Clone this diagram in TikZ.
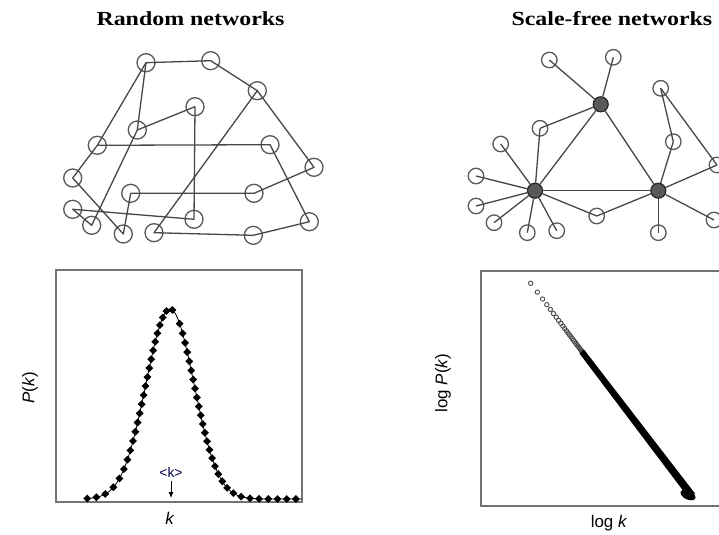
\documentclass[tikz,border=0pt]{standalone}
\usepackage{fontspec}
\setmainfont{Liberation Serif}
\setsansfont{Liberation Sans}
\usetikzlibrary{arrows.meta, shapes.geometric}

\begin{document}
\begin{tikzpicture}[
    x=1bp, y=-1bp,
    title/.style={anchor=west, font=\fontsize{20}{24}\selectfont\bfseries},
    rnode/.style={draw=black!65, circle, minimum size=18bp, inner sep=0pt, line width=1.3bp},
    leaf/.style={draw=black!65, circle, minimum size=15.5bp, inner sep=0pt, line width=1.3bp},
    hub/.style={draw=black!85, fill=black!65, circle, minimum size=15bp, inner sep=0pt, line width=1.2bp},
    link/.style={draw=black!72, line width=1.3bp, line join=round},
    frame/.style={draw=black!55, line width=1.5bp},
    axis/.style={font=\sffamily\fontsize{17}{19}\selectfont},
    dmd/.style={diamond, fill=black, minimum size=8bp, inner sep=0pt},
    odot/.style={draw=black!70, line width=0.9bp}
]
    \clip (0,0) rectangle (719,535);
    \fill[white] (0,0) rectangle (719,535);

    % Titles
    \node[title] (rtitle) at (93,19) {\scalebox{1.2}[1]{Random networks}};
    \node[title] (stitle) at (508,19) {\scalebox{1.2}[1]{Scale-free networks}};

    % Random network
    \node[rnode] (r1) at (146,62.7) {};
    \node[rnode] (r2) at (210.7,60.7) {};
    \node[rnode] (r3) at (257.3,90.7) {};
    \node[rnode] (r4) at (195,106.7) {};
    \node[rnode] (r5) at (137.3,130) {};
    \node[rnode] (r6) at (97.3,145.3) {};
    \node[rnode] (r7) at (270,144.7) {};
    \node[rnode] (r8) at (314,167.3) {};
    \node[rnode] (r9) at (72.7,178) {};
    \node[rnode] (r10) at (130.7,193.3) {};
    \node[rnode] (r11) at (254,193.3) {};
    \node[rnode] (r12) at (72.7,209.3) {};
    \node[rnode] (r13) at (194,219.3) {};
    \node[rnode] (r14) at (309.3,221.7) {};
    \node[rnode] (r15) at (91.7,225.3) {};
    \node[rnode] (r16) at (123.3,234) {};
    \node[rnode] (r17) at (154,232.7) {};
    \node[rnode] (r18) at (253.3,235.3) {};

    \draw[link] (r6.center) -- (r1.center) -- (r2.center) -- (r3.center) -- (r8.center) -- (r11.center) -- (r10.center) -- (r16.center) -- (r9.center) -- (r6.center) -- (r7.center) -- (r14.center) -- (r18.center) -- (r17.center) -- (r3.center);
    \draw[link] (r1.center) -- (r5.center) -- (r4.center) -- (r13.center) -- (r12.center) -- (r15.center) -- (r5.center);

    % Scale-free network
    \node[leaf] (s1) at (549.3,60) {};
    \node[leaf] (s2) at (613.3,57.3) {};
    \node[leaf] (s3) at (660.7,88.3) {};
    \node[leaf] (s4) at (540,128.3) {};
    \node[leaf] (s5) at (500.7,144) {};
    \node[leaf] (s6) at (673.3,141.7) {};
    \node[leaf] (s7) at (717,165) {};
    \node[leaf] (s8) at (476,176) {};
    \node[leaf] (s9) at (476,206) {};
    \node[leaf] (s10) at (494,222.7) {};
    \node[leaf] (s11) at (527.3,232.7) {};
    \node[leaf] (s12) at (556.7,230.7) {};
    \node[leaf] (s13) at (596.7,216) {};
    \node[leaf] (s14) at (714,220) {};
    \node[leaf] (s15) at (658.3,232.7) {};

    \node[hub] (h1) at (600.7,104.3) {};
    \node[hub] (h2) at (535,190.7) {};
    \node[hub] (h3) at (658.3,190.7) {};
    \draw[link] (s3.center) -- (s6.center);
    \draw[link] (s3.center) -- (s7.center);
    \draw[link] (h1) -- (s1.center);
    \draw[link] (h1) -- (s2.center);
    \draw[link] (h1) -- (s4.center);
    \draw[link] (h1) -- (h2);
    \draw[link] (h1) -- (h3);
    \draw[link] (h2) -- (h3);
    \draw[link] (h2) -- (s4.center);
    \draw[link] (h2) -- (s5.center);
    \draw[link] (h2) -- (s8.center);
    \draw[link] (h2) -- (s9.center);
    \draw[link] (h2) -- (s10.center);
    \draw[link] (h2) -- (s11.center);
    \draw[link] (h2) -- (s12.center);
    \draw[link] (h2) -- (s13.center);
    \draw[link] (h3) -- (s13.center);
    \draw[link] (h3) -- (s6.center);
    \draw[link] (h3) -- (s7.center);
    \draw[link] (h3) -- (s14.center);
    \draw[link] (h3) -- (s15.center);

    % Poisson degree distribution
    \draw[frame] (56,270) rectangle (302,502);
    \draw[black, line width=0.8bp]
        plot[domain=88:302, samples=120] (\x, {499-190*exp(max(-9, -0.5*((\x-170)/24)*((\x-170)/24)))});
    \gdef\sval{-3.45}
    \foreach \i in {1,...,90} {
        \ifdim\sval pt<5.55pt
            \node[dmd] at ({170+24*\sval}, {499-190*exp(max(-9, -0.5*\sval*\sval))}) {};
        \fi
        \pgfmathsetmacro\snew{\sval + 9.2/sqrt(576 + (190*\sval*exp(max(-9, -0.5*\sval*\sval)))^2)}
        \xdef\sval{\snew}
    }
    \node[font=\sffamily\fontsize{14}{16}\selectfont, text=black!70!blue] (kmean) at (171,472) {<k>};
    \coordinate (kaxis) at (171,498);
    \draw[-{Latex[length=6bp, width=5bp]}, line width=0.9bp] (kmean) -- (kaxis);
    \node[axis] (klabel) at (170,518) {\textit{k}};
    \node[axis, rotate=90] (pklabel) at (30,388) {\textit{P}(\textit{k})};

    % Power-law degree distribution
    \draw[frame] (481,271) rectangle (730,506);
    \foreach \k in {3,...,30}
        \draw[odot] ({530.7+23.2*ln(\k/3)}, {283.3+30.86*ln(\k/3)}) circle (2.2bp);
    \fill[black] (584,349.5) -- (695,493.5) -- (689,498.5) -- (579.5,353.5) -- cycle;
    \fill[black, rotate around={-25:(688,495)}] (688,495) ellipse [x radius=8bp, y radius=4.5bp];
    \node[axis] (logk) at (609,523) {log \textit{k}};
    \node[axis, rotate=90] (logpk) at (443,383) {log \textit{P}(\textit{k})};
\end{tikzpicture}
\end{document}
